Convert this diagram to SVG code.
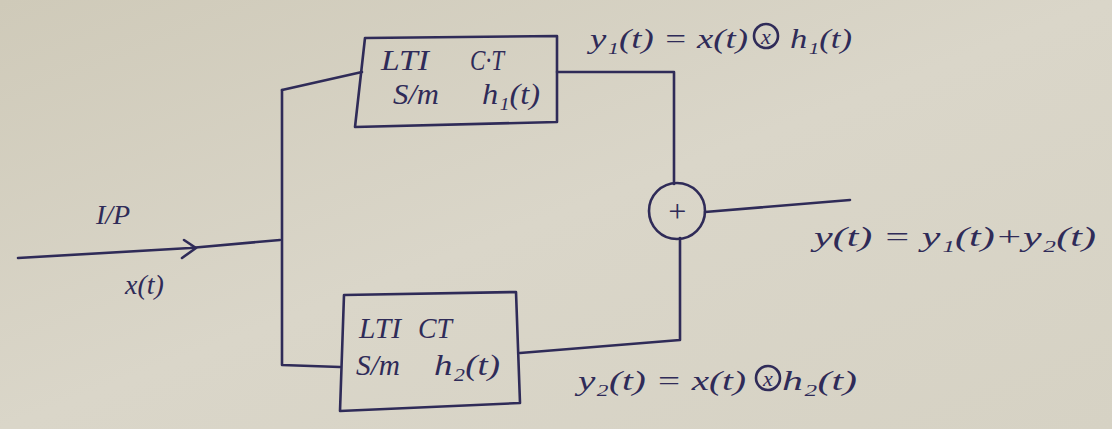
<svg xmlns="http://www.w3.org/2000/svg" width="1112" height="429" viewBox="0 0 1112 429">
<defs>
<linearGradient id="bg" x1="0" y1="0" x2="1" y2="1">
<stop offset="0" stop-color="#cfcab9"/>
<stop offset="0.5" stop-color="#dad6c9"/>
<stop offset="1" stop-color="#d6d2c4"/>
</linearGradient>
</defs>
<style>
.ink{fill:none;stroke:#2f2b58;stroke-width:2.6;stroke-linecap:round;stroke-linejoin:round}
.t{font-family:"Liberation Serif",serif;font-style:italic;fill:#2f2b58}
.b{font-size:30px}
.l{font-size:28px}
</style>
<rect width="1112" height="429" fill="url(#bg)"/>
<g id="connectors">
<path class="ink" d="M18,258 L190,248 L280,240"/>
<path class="ink" d="M184,240 L196,248 L182,258"/>
<path class="ink" d="M282,90 L282,365 L340,367"/>
<path class="ink" d="M282,90 L362,72"/>
<path class="ink" d="M557,72 L674,72 L674,184"/>
<path class="ink" d="M520,353 L680,340 L680,238"/>
<path class="ink" d="M705,212 L850,200"/>
</g>
<g id="box1">
<path class="ink" d="M365,38 L557,36 L557,122 L355,127 Z"/>
<text class="t b" x="381" y="70" textLength="48" lengthAdjust="spacingAndGlyphs">LTI</text>
<text class="t b" x="470" y="70" textLength="34" lengthAdjust="spacingAndGlyphs">C·T</text>
<text class="t b" x="393" y="104" textLength="46" lengthAdjust="spacingAndGlyphs">S/m</text>
<text class="t b" x="482" y="104" textLength="58" lengthAdjust="spacingAndGlyphs">h₁(t)</text>
</g>
<g id="box2">
<path class="ink" d="M344,295 L516,292 L520,403 L340,411 Z"/>
<text class="t b" x="359" y="338" textLength="42" lengthAdjust="spacingAndGlyphs">LTI</text>
<text class="t b" x="418" y="338" textLength="34" lengthAdjust="spacingAndGlyphs">CT</text>
<text class="t b" x="356" y="375" textLength="44" lengthAdjust="spacingAndGlyphs">S/m</text>
<text class="t b" x="434" y="375" textLength="66" lengthAdjust="spacingAndGlyphs">h₂(t)</text>
</g>
<g id="sum">
<circle class="ink" cx="677" cy="211" r="28"/>
<text class="t" x="677" y="222" font-size="32" text-anchor="middle" font-style="normal">+</text>
</g>
<g id="labels">
<text class="t l" x="96" y="224">I/P</text>
<text class="t l" x="125" y="294">x(t)</text>
<text class="t l" x="590" y="48" textLength="158" lengthAdjust="spacingAndGlyphs">y₁(t) = x(t)</text>
<circle class="ink" cx="766" cy="36" r="12" stroke-width="2"/>
<text class="t" x="766" y="44" font-size="22" text-anchor="middle">x</text>
<text class="t l" x="790" y="48" textLength="62" lengthAdjust="spacingAndGlyphs">h₁(t)</text>
<text class="t l" x="814" y="246" textLength="282" lengthAdjust="spacingAndGlyphs">y(t) = y₁(t)+y₂(t)</text>
<text class="t l" x="578" y="390" textLength="168" lengthAdjust="spacingAndGlyphs">y₂(t) = x(t)</text>
<circle class="ink" cx="768" cy="378" r="12" stroke-width="2"/>
<text class="t" x="768" y="386" font-size="22" text-anchor="middle">x</text>
<text class="t l" x="782" y="390" textLength="75" lengthAdjust="spacingAndGlyphs">h₂(t)</text>
</g>
</svg>
